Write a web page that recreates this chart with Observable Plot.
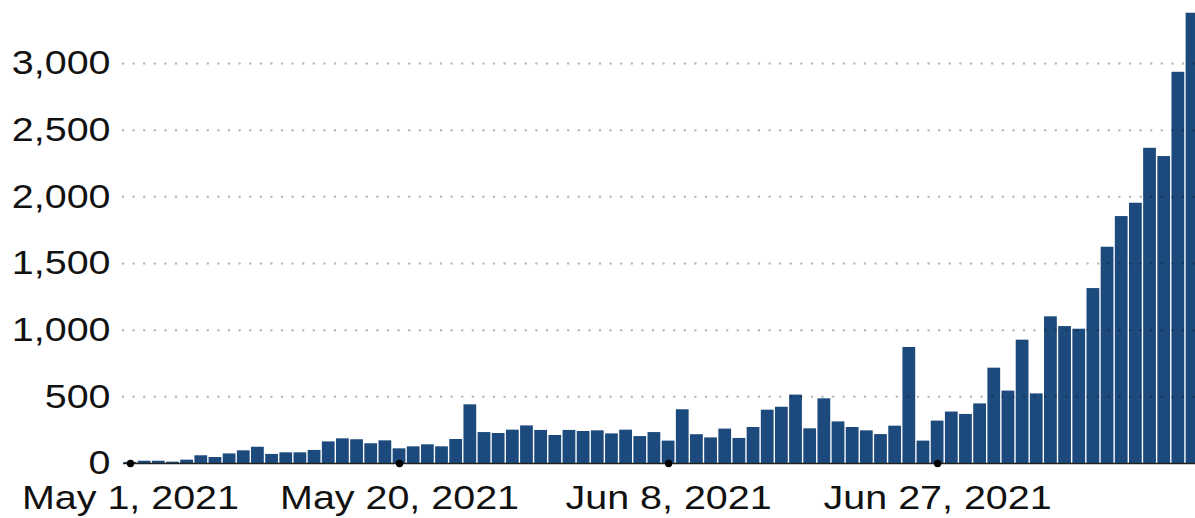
<!DOCTYPE html>
<html>
<head>
<meta charset="utf-8">
<script src="https://cdn.jsdelivr.net/npm/d3@7"></script>
<script src="https://cdn.jsdelivr.net/npm/@observablehq/plot@0.6"></script>
<style>
html, body { margin: 0; padding: 0; background: #fff; overflow: hidden; }
</style>
</head>
<body>
<div id="chart"></div>
<script>
// ---- data ----
const startDate = "2021-05-01";
const endDate = "2021-07-15";
const cases = [
  8, 17, 17, 10, 25, 58, 45, 72, 95, 122,
  68, 80, 80, 98, 162, 185, 178, 148, 170, 110,
  125, 140, 125, 180, 440, 232, 225, 250, 282, 248,
  210, 248, 240, 245, 222, 250, 202, 232, 168, 403,
  216, 192, 258, 188, 270, 400, 422, 513, 260, 485,
  312, 270, 245, 217, 280, 870, 168, 318, 386, 368,
  447, 715, 543, 925, 522, 1100, 1027, 1007, 1312, 1622,
  1852, 1952, 2364, 2302, 2934, 3377
];
const yTicks = [0, 500, 1000, 1500, 2000, 2500, 3000];
const xTickDates = ["2021-05-01", "2021-05-20", "2021-06-08", "2021-06-27"];

// ---- build table ----
const parse = d3.utcParse("%Y-%m-%d");
const fmtKey = d3.utcFormat("%Y-%m-%d");
const fmtLabel = d3.utcFormat("%b %-d, %Y");
const dates = d3.utcDay.range(parse(startDate), d3.utcDay.offset(parse(endDate), 1)).map(fmtKey);
const data = dates.map((d, i) => ({date: d, value: cases[i]}));

const chart = Plot.plot({
  width: 1195,
  height: 518,
  marginLeft: 123,
  marginRight: 0,
  marginTop: 13,
  marginBottom: 55,
  style: {fontFamily: "'Liberation Sans', Arial, sans-serif", fontSize: "34px", color: "#111", background: "#fff"},
  x: {type: "band", domain: dates, range: [122.9, 1199.1], padding: 0, round: false},
  y: {domain: [0, 3000], range: [463, 63]},
  marks: [
    Plot.barY(data, {x: "date", y: "value", fill: "#1c4a7d", insetLeft: 0.7, insetRight: 0.7}),
    Plot.gridY(yTicks.filter(d => d > 0), {stroke: "#000", strokeOpacity: 0.28, strokeWidth: 2.5, strokeDasharray: "0 10.6", strokeLinecap: "round"}),
    Plot.ruleY([0], {stroke: "#222", strokeWidth: 1.5}),
    Plot.dot(xTickDates, {x: d => d, y: 0, r: 3.7, fill: "#000"}),
    Plot.axisY(yTicks, {tickSize: 0, tickPadding: 13, tickFormat: d3.format(","), label: null}),
    Plot.axisX(xTickDates, {tickSize: 0, tickPadding: 21, tickFormat: d => fmtLabel(parse(d)), label: null})
  ]
});

document.getElementById("chart").append(chart);

// the reference's lettering is horizontally widened; stretch each label about its anchor
chart.querySelectorAll('[aria-label="y-axis tick label"] text, [aria-label="x-axis tick label"] text').forEach(t => {
  const x = parseFloat(t.getAttribute("x") || 0);
  const old = t.getAttribute("transform") || "";
  t.setAttribute("transform", `${old} translate(${x},0) scale(1.16,1) translate(${-x},0)`);
});
</script>
</body>
</html>
